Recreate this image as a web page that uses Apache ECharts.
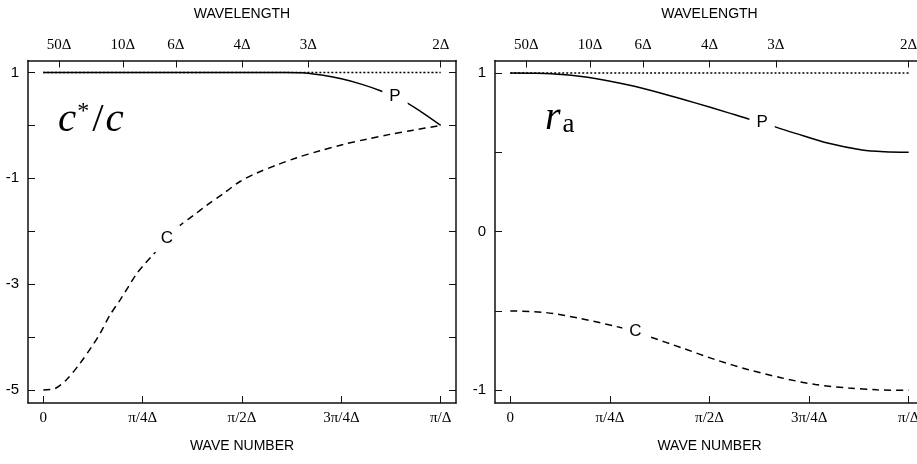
<!DOCTYPE html>
<html><head><meta charset="utf-8">
<script src="https://cdn.jsdelivr.net/npm/echarts@6/dist/echarts.min.js"></script>
<style>html,body{margin:0;padding:0;background:#fff}#c{width:917px;height:464px}</style>
</head><body><div id="c"></div>
<script>
// ---- axis ticks & labels ----
const waveNumberTicks = [0, 0.25, 0.5, 0.75, 1];
const waveNumberLabels = ['0', 'π/4Δ', 'π/2Δ', '3π/4Δ', 'π/Δ'];
const wavelengths = [50, 10, 6, 4, 3, 2];
const wavelengthLabels = ['50Δ', '10Δ', '6Δ', '4Δ', '3Δ', '2Δ'];
const leftYTicks = [1, 0, -1, -2, -3, -4, -5];
const leftYLabels = [1, -1, -3, -5];
const rightYTicks = [1, 0.5, 0, -0.5, -1];
const rightYLabels = [1, 0, -1];

// ---- reference (exact) value ----
const refX = [0, 1];
const refY = [1, 1];

// ---- left panel: c*/c ----
const leftPX = [0, 0.1, 0.2, 0.3, 0.4, 0.5, 0.55, 0.6, 0.65, 0.7, 0.75, 0.8, 0.85, 0.9, 0.95, 1.0];
const leftPY = [1, 1, 1, 1, 1, 1, 0.999, 0.998, 0.993, 0.95, 0.88, 0.78, 0.65, 0.49, 0.26, 0.0];
const leftCX = [0, 0.03, 0.059, 0.092, 0.122, 0.143, 0.168, 0.193, 0.214, 0.235, 0.256, 0.273, 0.31, 0.344, 0.378, 0.411, 0.453, 0.495, 0.537, 0.587, 0.638, 0.696, 0.755, 0.814, 0.872, 0.931, 1];
const leftCY = [-5, -4.97, -4.8, -4.5, -4.18, -3.93, -3.58, -3.30, -3.05, -2.80, -2.61, -2.47, -2.15, -1.89, -1.70, -1.51, -1.29, -1.06, -0.90, -0.75, -0.61, -0.48, -0.36, -0.26, -0.17, -0.09, 0];

// ---- right panel: r_a ----
const rightPX = [0, 0.065, 0.13, 0.213, 0.297, 0.381, 0.464, 0.548, 0.594, 0.632, 0.665, 0.716, 0.799, 0.883, 0.94, 1];
const rightPY = [1, 0.998, 0.99, 0.965, 0.923, 0.870, 0.811, 0.748, 0.713, 0.69, 0.66, 0.619, 0.556, 0.514, 0.503, 0.5];
const rightCX = [0, 0.088, 0.171, 0.264, 0.314, 0.347, 0.431, 0.515, 0.598, 0.682, 0.766, 0.849, 0.92, 1];
const rightCY = [-0.5, -0.51, -0.545, -0.597, -0.63, -0.66, -0.733, -0.807, -0.87, -0.922, -0.964, -0.985, -0.997, -1.0];

// ---- curve labels ----
const leftLabels = [[0.885, 0.55, 'P'], [0.311, -2.14, 'C']];
const rightLabels = [[0.632, 0.69, 'P'], [0.314, -0.63, 'C']];

const zip = (xs, ys) => xs.map((x, i) => [x, ys[i]]);
const wavelengthPos = wavelengths.map(L => 2 / L);
const near = (a, b) => Math.abs(a - b) < 1e-6;

const XMIN = -0.0385, XMAX = 1.0385;
const SERIF = 'Liberation Serif';
const SANS = 'Liberation Sans';
const lineCol = '#111';

function xBottom(g) {
  return {
    type: 'value', gridIndex: g, position: 'bottom', min: XMIN, max: XMAX,
    axisLine: { show: true, onZero: false, lineStyle: { color: lineCol, width: 1.5 } },
    axisTick: { show: true, inside: true, length: 7, customValues: waveNumberTicks, lineStyle: { color: lineCol, width: 1 } },
    axisLabel: { show: true, customValues: waveNumberTicks, margin: 8, fontFamily: SERIF, fontSize: 15, color: '#000',
      formatter: v => { const i = waveNumberTicks.findIndex(t => near(t, v)); return i >= 0 ? waveNumberLabels[i] : ''; } },
    splitLine: { show: false },
    name: 'WAVE NUMBER', nameLocation: 'middle', nameGap: 36,
    nameTextStyle: { fontFamily: SANS, fontSize: 14, color: '#000' }
  };
}
function xTop(g) {
  return {
    type: 'value', gridIndex: g, position: 'top', min: XMIN, max: XMAX,
    axisLine: { show: true, onZero: false, lineStyle: { color: lineCol, width: 1.5 } },
    axisTick: { show: true, inside: true, length: 7, customValues: wavelengthPos, lineStyle: { color: lineCol, width: 1 } },
    axisLabel: { show: true, customValues: wavelengthPos, margin: 8, fontFamily: SERIF, fontSize: 15, color: '#000',
      formatter: v => { const i = wavelengthPos.findIndex(t => near(t, v)); return i >= 0 ? wavelengthLabels[i] : ''; } },
    splitLine: { show: false },
    name: 'WAVELENGTH', nameLocation: 'middle', nameGap: 39,
    nameTextStyle: { fontFamily: SANS, fontSize: 14, color: '#000' }
  };
}
function yAx(g, pos, min, max, ticks, labels) {
  return {
    type: 'value', gridIndex: g, position: pos, min: min, max: max,
    axisLine: { show: true, onZero: false, lineStyle: { color: lineCol, width: 1.5 } },
    axisTick: { show: true, inside: true, length: 7, customValues: ticks, lineStyle: { color: lineCol, width: 1 } },
    axisLabel: labels ? { show: true, customValues: labels, margin: 9, fontFamily: SANS, fontSize: 15, color: '#000',
      formatter: v => String(Math.round(v)) } : { show: false },
    splitLine: { show: false }
  };
}
function curve(xi, yi, xs, ys, type, w) {
  return { type: 'line', xAxisIndex: xi, yAxisIndex: yi, data: zip(xs, ys), symbol: 'none', smooth: 0.3,
    lineStyle: { color: '#000', width: w, type: type }, z: 3, animation: false, silent: true };
}
function labels(xi, yi, pts) {
  return { type: 'scatter', xAxisIndex: xi, yAxisIndex: yi, data: pts, symbolSize: 0,
    itemStyle: { color: '#fff', opacity: 1 }, z: 10, zlevel: 1, animation: false, silent: true,
    emphasis: { disabled: true },
    label: { show: true, position: 'inside', formatter: p => p.data[2], backgroundColor: '#ffffff', padding: [5, 7],
      opacity: 1, fontFamily: SANS, fontSize: 17, color: '#000000' } };
}

const chart = echarts.init(document.getElementById('c'), null, { renderer: 'canvas' });
chart.setOption({
  backgroundColor: '#fff',
  animation: false,
  grid: [
    { left: 28, top: 60.5, width: 428, height: 342.5, outerBoundsMode: 'none', containLabel: false },
    { left: 495, top: 60.5, width: 429, height: 342.5, outerBoundsMode: 'none', containLabel: false }
  ],
  xAxis: [xBottom(0), xTop(0), xBottom(1), xTop(1)],
  yAxis: [
    yAx(0, 'left', -5.245, 1.226, leftYTicks, leftYLabels),
    yAx(0, 'right', -5.245, 1.226, leftYTicks, null),
    yAx(1, 'left', -1.08, 1.078, rightYTicks, rightYLabels),
    yAx(1, 'right', -1.08, 1.078, rightYTicks, null)
  ],
  series: [
    curve(0, 0, refX, refY, [2, 2], 1.5),
    curve(0, 0, leftPX, leftPY, 'solid', 1.5),
    curve(0, 0, leftCX, leftCY, [7, 5], 1.5),
    labels(0, 0, leftLabels),
    curve(2, 2, refX, refY, [2, 2], 1.5),
    curve(2, 2, rightPX, rightPY, 'solid', 1.5),
    curve(2, 2, rightCX, rightCY, [7, 5], 1.5),
    labels(2, 2, rightLabels)
  ],
  graphic: [
    { type: 'text', left: 58, top: 100, z: 20, style: {
        text: '{i|c}{s|*}{n|/}{i|c}', fill: '#000',
        rich: {
          i: { fontFamily: SERIF, fontStyle: 'italic', fontSize: 41, fill: '#000' },
          s: { fontFamily: SERIF, fontSize: 24, verticalAlign: 'top', fill: '#000', padding: [0, 1, 0, 1] },
          n: { fontFamily: SERIF, fontSize: 41, fill: '#000', padding: [0, 2, 0, 2] }
        } } },
    { type: 'text', left: 545, top: 98, z: 20, style: {
        text: '{i|r}{b|a}', fill: '#000',
        rich: {
          i: { fontFamily: SERIF, fontStyle: 'italic', fontSize: 40, fill: '#000' },
          b: { fontFamily: SERIF, fontSize: 27, verticalAlign: 'bottom', fill: '#000', padding: [0, 0, 0, 2] }
        } } }
  ]
});
</script></body></html>
